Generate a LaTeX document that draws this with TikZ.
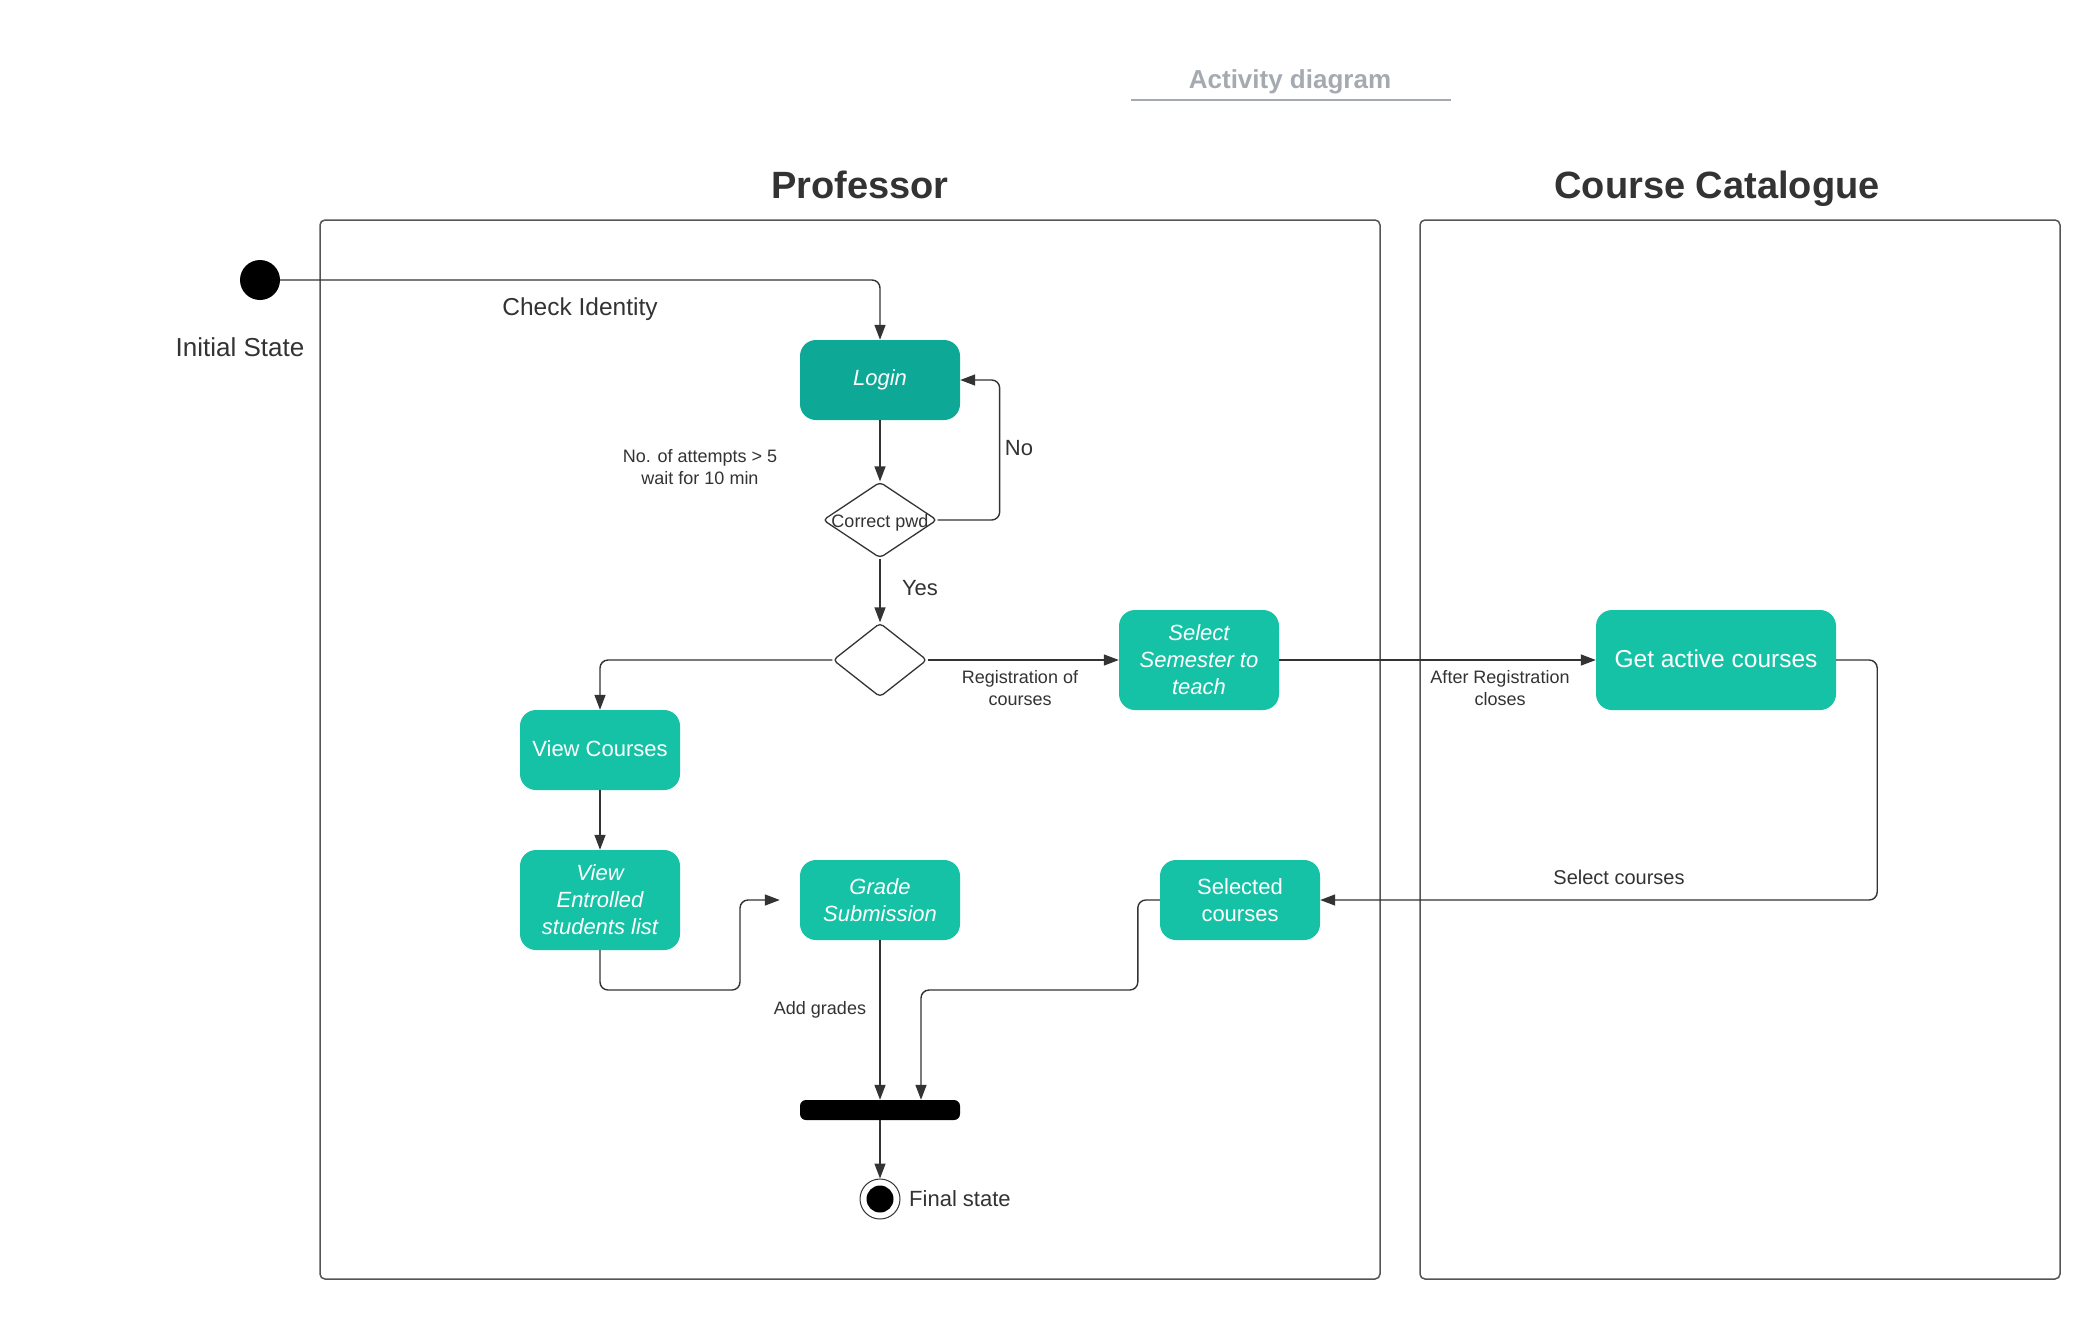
\documentclass[tikz,border=0pt]{standalone}
\usepackage{fontspec}
\setmainfont{Liberation Sans}
\usetikzlibrary{arrows.meta,shapes.geometric,calc}

\definecolor{ink}{HTML}{333333}
\definecolor{lanec}{HTML}{555555}
\definecolor{tealdark}{HTML}{0DA996}
\definecolor{teal}{HTML}{16C2A6}
\definecolor{titlegray}{HTML}{A5AAB0}

\newcommand{\fsz}[2]{\fontsize{#1pt}{#2pt}\selectfont}

\tikzset{
  lane/.style={draw=lanec, line width=1.5pt, rounded corners=5pt},
  act/.style={fill=teal, rounded corners=16pt, text=white, align=center,
    inner sep=0pt, minimum width=160pt, font=\fsz{22}{27}},
  actdark/.style={act, fill=tealdark},
  dia/.style={diamond, draw=ink, line width=1.3pt, inner sep=0pt,
    rounded corners=4pt},
  lbl/.style={text=ink, align=center, inner sep=0pt},
  arr/.style={draw=ink, line width=1.4pt, rounded corners=8pt,
    -{Triangle[length=15pt,width=11pt]}},
}

\begin{document}
\begin{tikzpicture}[x=1pt,y=-1pt]
  \useasboundingbox (0,0) rectangle (2100,1320);
  \fill[white] (0,0) rectangle (2100,1320);

  % title
  \node[lbl, text=titlegray, font=\bfseries\fsz{26}{30}] (title) at (1290,82) {Activity diagram};
  \draw[titlegray, line width=2.5pt] (1131,100) -- (1451,100);

  % swimlanes
  \draw[lane] (320,220) rectangle (1380,1279);
  \draw[lane] (1420,220) rectangle (2060,1279);
  \node[lbl, font=\bfseries\fsz{38}{44}] (hprof) at (860,185) {Professor};
  \node[lbl, font=\bfseries\fsz{38}{44}] (hcat) at (1717,189) {Course Catalogue};

  % initial state
  \node[circle, fill=black, minimum size=40pt, inner sep=0pt] (init) at (260,280) {};
  \node[lbl, font=\fsz{26}{30}] (initl) at (240,347) {Initial State};

  % activities
  \node[actdark, minimum height=80pt, font=\itshape\fsz{22}{27}] (login) at (880,380) {Login};
  \node[dia, minimum width=114pt, minimum height=76pt] (d1) at (880,520) {};
  \node[lbl, font=\fsz{18}{22}] (d1l) at (880,523) {Correct pwd};
  \node[dia, minimum width=94pt, minimum height=74pt] (d2) at (880,660) {};

  \node[act, minimum height=100pt, font=\itshape\fsz{22}{27}] (sem) at (1199,660) {Select\\Semester to\\teach};
  \node[act, minimum width=240pt, minimum height=100pt, font=\fsz{24.5}{29}] (get) at (1716,660) {\raisebox{3pt}{Get active courses}};
  \node[act, minimum height=80pt] (sel) at (1240,900) {Selected\\courses};
  \node[act, minimum height=80pt] (vc) at (600,750) {\raisebox{2pt}{View Courses}};
  \node[act, minimum height=100pt, font=\itshape\fsz{22}{27}] (ves) at (600,900) {View\\Entrolled\\students list};
  \node[act, minimum height=80pt, font=\itshape\fsz{22}{27}] (gs) at (880,900) {Grade\\Submission};

  % join bar and final state
  \node[fill=black, rounded corners=6pt, minimum width=160pt, minimum height=20pt, inner sep=0pt] (bar) at (880,1110) {};
  \node[circle, draw=ink, line width=1pt, minimum size=40pt, inner sep=0pt] (final) at (880,1199) {};
  \node[circle, fill=black, minimum size=27pt, inner sep=0pt] (finalc) at (final) {};
  \node[lbl, anchor=west, font=\fsz{22}{26}] (finall) at (909,1199) {Final state};

  % flow
  \draw[arr] (init.east) -- (login.north |- init.east) -- (login.north);
  \draw[arr] (login.south) -- (d1.north);
  \draw[arr] (d1.east) -- ++(62,0) |- (login.east);
  \draw[arr] (d1.south) -- (d2.north);
  \draw[arr] (d2.east) -- (sem.west);
  \draw[arr] (d2.west) -| (vc.north);
  \draw[arr] (sem.east) -- (get.west);
  \draw[arr] (get.east) -- ++(41,0) |- (sel.east);
  \draw[arr] (vc.south) -- (ves.north);
  \coordinate (gsin) at ($(gs.west)+(-20,0)$);
  \draw[arr] (ves.south) |- (740,990) |- (gsin);
  \draw[arr] (gs.south) -- (gs.south |- bar.north);
  \coordinate (barin) at ($(bar.north)+(41,0)$);
  \draw[arr] (sel.west) -- ++(-22,0) |- (921,990) -- (barin);
  \draw[arr] (bar.south) -- (final.north);

  % labels on flows
  \node[lbl, font=\fsz{24.5}{28}] (lcheck) at (580,309) {Check Identity};
  \node[lbl, font=\fsz{18}{22}] (lwait) at (700,467) {No. of attempts > 5\\wait for 10 min};
  \node[lbl, font=\fsz{22}{26}] (lno) at (1019,448) {No};
  \node[lbl, font=\fsz{22}{26}] (lyes) at (920,588) {Yes};
  \node[lbl, font=\fsz{18}{22}] (lreg) at (1020,688) {Registration of\\courses};
  \node[lbl, font=\fsz{18}{22}] (lafter) at (1500,688) {After Registration\\closes};
  \node[lbl, font=\fsz{20}{24}] (lsel) at (1619,877) {Select courses};
  \node[lbl, font=\fsz{18}{22}] (ladd) at (820,1010) {Add grades};
\end{tikzpicture}
\end{document}
